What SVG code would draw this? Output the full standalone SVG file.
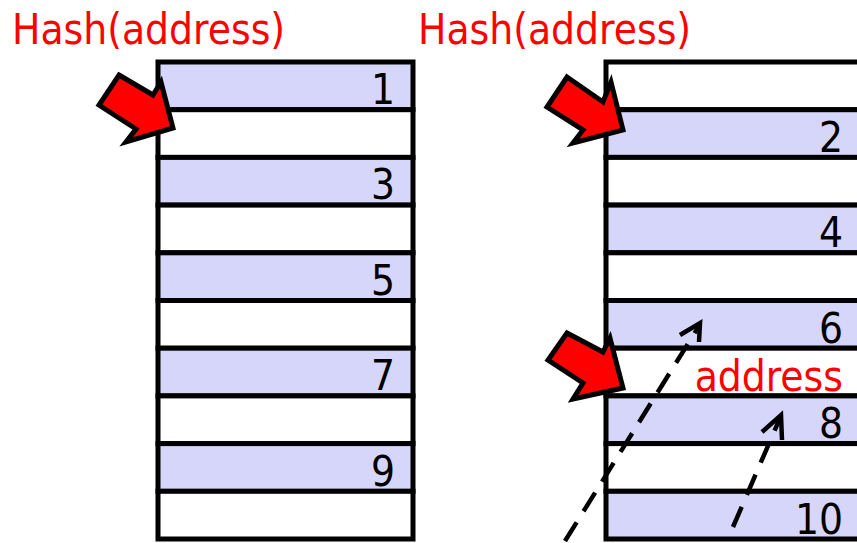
<svg xmlns="http://www.w3.org/2000/svg" width="857" height="543" viewBox="0 0 857 543">
<style>
.t{font-family:"DejaVu Sans Condensed","DejaVu Sans",sans-serif;font-size:42px;}
.red{fill:#ff0000;}
.num{fill:#000;text-anchor:end;}
.sh{fill:#d6d6fa;stroke:#000;stroke-width:5;}
.wh{fill:#fff;stroke:#000;stroke-width:5;}
.arr{fill:#ff0000;stroke:#000;stroke-width:5;stroke-linejoin:miter;}
.dash{fill:none;stroke:#000;stroke-width:4.5;stroke-dasharray:22,13;}
.head{fill:none;stroke:#000;stroke-width:4.5;}
</style>
<rect width="857" height="543" fill="#fff"/>
<g id="title-left"><text class="t red" x="12" y="44">Hash(address)</text></g>
<g id="title-right"><text class="t red" x="418" y="44">Hash(address)</text></g>

<g id="left-table">
<g id="L1"><rect class="sh" x="158" y="62" width="255" height="47.7"/><text class="t num" x="395" y="104">1</text></g>
<g id="L2"><rect class="wh" x="158" y="109.7" width="255" height="47.7"/></g>
<g id="L3"><rect class="sh" x="158" y="157.4" width="255" height="47.7"/><text class="t num" x="395" y="199">3</text></g>
<g id="L4"><rect class="wh" x="158" y="205.1" width="255" height="47.7"/></g>
<g id="L5"><rect class="sh" x="158" y="252.8" width="255" height="47.7"/><text class="t num" x="395" y="295">5</text></g>
<g id="L6"><rect class="wh" x="158" y="300.5" width="255" height="47.7"/></g>
<g id="L7"><rect class="sh" x="158" y="348.2" width="255" height="47.7"/><text class="t num" x="395" y="390">7</text></g>
<g id="L8"><rect class="wh" x="158" y="395.9" width="255" height="47.7"/></g>
<g id="L9"><rect class="sh" x="158" y="443.6" width="255" height="47.7"/><text class="t num" x="395" y="486">9</text></g>
<g id="L10"><rect class="wh" x="158" y="491.3" width="255" height="47.7"/></g>
</g>

<g id="right-table">
<g id="R1"><rect class="wh" x="606" y="62" width="270" height="47.7"/></g>
<g id="R2"><rect class="sh" x="606" y="109.7" width="270" height="47.7"/><text class="t num" x="843" y="152">2</text></g>
<g id="R3"><rect class="wh" x="606" y="157.4" width="270" height="47.7"/></g>
<g id="R4"><rect class="sh" x="606" y="205.1" width="270" height="47.7"/><text class="t num" x="843" y="247">4</text></g>
<g id="R5"><rect class="wh" x="606" y="252.8" width="270" height="47.7"/></g>
<g id="R6"><rect class="sh" x="606" y="300.5" width="270" height="47.7"/><text class="t num" x="843" y="343">6</text></g>
<g id="R7"><rect class="wh" x="606" y="348.2" width="270" height="47.7"/><text class="t red" x="843" y="391" text-anchor="end">address</text></g>
<g id="R8"><rect class="sh" x="606" y="395.9" width="270" height="47.7"/><text class="t num" x="843" y="438">8</text></g>
<g id="R9"><rect class="wh" x="606" y="443.6" width="270" height="47.7"/></g>
<g id="R10"><rect class="sh" x="606" y="491.3" width="270" height="47.7"/><text class="t num" x="843" y="534">10</text></g>
</g>

<g id="pointers">
<polygon class="arr" points="119,75 153,95 161,82 173,128 126,142 136,129 99,105"/>
<polygon class="arr" points="567,77 603,102 611,82 623,130 573,143 583,130 547,107"/>
<polygon class="arr" points="567,333 603,352 610,338 623,388 573,399 583,383 548,360"/>
</g>

<g id="connectors">
<line class="dash" x1="565" y1="541" x2="699" y2="326"/>
<polyline class="head" points="680,335 700,323 699,342"/>
<line class="dash" x1="733" y1="527" x2="780" y2="418"/>
<polyline class="head" points="762,432 781,415 782,440"/>
</g>
</svg>
